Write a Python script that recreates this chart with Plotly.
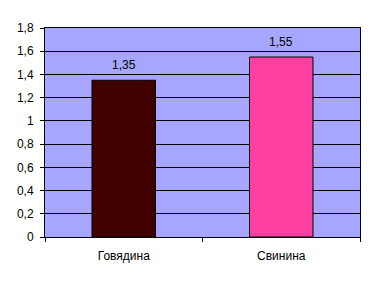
import plotly.graph_objects as go

categories = ["Говядина", "Свинина"]
values = [1.35, 1.55]
labels = ["1,35", "1,55"]
bar_colors = ["#400000", "#FF40A0"]
y_ticks = [0, 0.2, 0.4, 0.6, 0.8, 1, 1.2, 1.4, 1.6, 1.8]

fig = go.Figure(go.Bar(
    x=categories, y=values,
    marker=dict(color=bar_colors, line=dict(color="black", width=1)),
    width=0.403,
))

for c, v, t in zip(categories, values, labels):
    fig.add_annotation(x=c, y=v, text=t, showarrow=False, yanchor="middle", yshift=15,
                       font=dict(family="Liberation Sans, Arial", size=12, color="black"))

fig.update_layout(
    width=378, height=285,
    margin=dict(l=45, r=18, t=28, b=48),
    paper_bgcolor="white", plot_bgcolor="#A6A6FF",
    separators=", ",
    showlegend=False,
    font=dict(family="Liberation Sans, Arial", size=12, color="black"),
    xaxis=dict(showline=True, linecolor="black", linewidth=1, mirror=True,
               ticks="outside", ticklen=4, tickcolor="black", tickson="boundaries",
               showgrid=False, ticklabelstandoff=8),
    yaxis=dict(range=[0, 1.8], tickvals=y_ticks, showline=True, linecolor="black",
               linewidth=1, mirror=True, ticks="outside", ticklen=4, tickcolor="black",
               showgrid=True, gridcolor="black", gridwidth=1, zeroline=False,
               ticklabelstandoff=4),
)

fig.write_html("out.html")
